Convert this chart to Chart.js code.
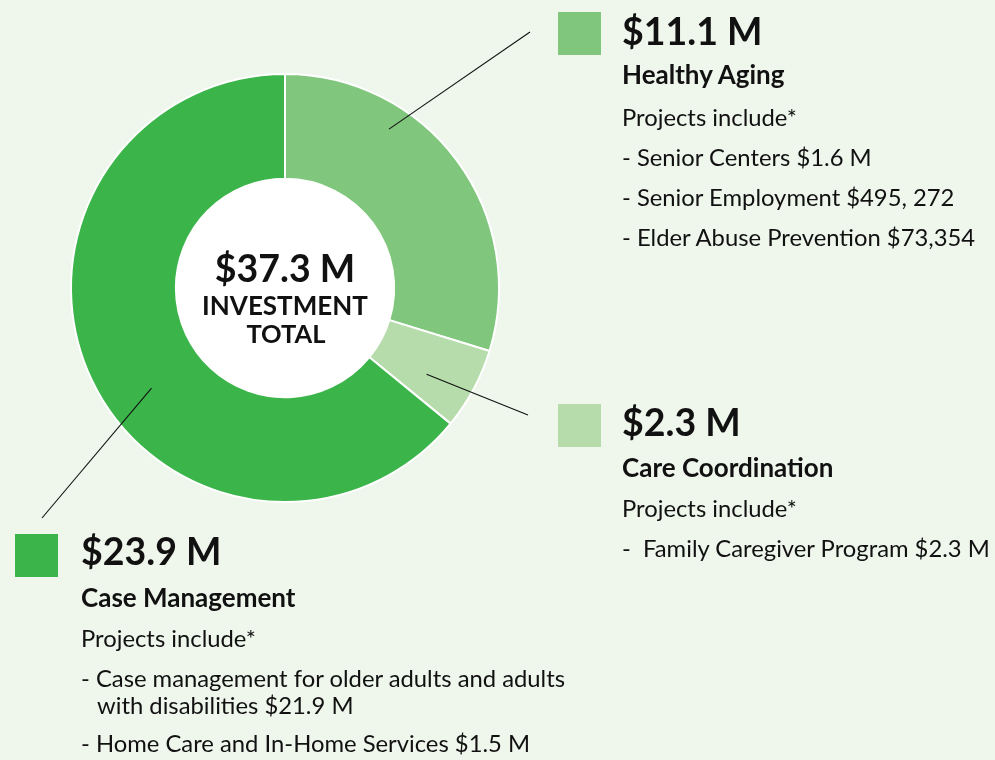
<!DOCTYPE html>
<html>
<head>
<meta charset="utf-8">
<script src="https://cdn.jsdelivr.net/npm/chart.js@4.4.1/dist/chart.umd.min.js"></script>
<style>
  html, body { margin: 0; padding: 0; }
  body { width: 995px; height: 760px; background: #eff6ec; position: relative; overflow: hidden; font-family: Lato, "Noto Sans", sans-serif; color: #111; }
  #wrap { position: absolute; left: 0; top: 0; width: 995px; height: 760px; }
  .t { position: absolute; white-space: pre; line-height: 1; }
  .sq { position: absolute; width: 43px; height: 43px; }
</style>
</head>
<body>
<div id="wrap"><canvas id="chart" width="995" height="760"></canvas></div>
<script>
// data
const categories = ["Healthy Aging", "Care Coordination", "Case Management"];
const amounts = [11.1, 2.3, 23.9]; // $ millions
const amountLabels = ["$11.1 M", "$2.3 M", "$23.9 M"];
const totalLabel = "$37.3 M";
const projectItems = [
  ["- Senior Centers $1.6 M", "- Senior Employment $495, 272", "- Elder Abuse Prevention $73,354"],
  ["-  Family Caregiver Program $2.3 M"],
  ["- Case management for older adults and adults\nwith disabilities $21.9 M", "- Home Care and In-Home Services $1.5 M"]
];

const colors = ["#80c77d", "#b6dcac", "#3bb54a"];

// layout of the text blocks (x, square top, baselines)
const blocks = [
  { x: 622, sqX: 558, sqY: 12, value: 45, name: 84, proj: 127, items: [167, 207, 247] },
  { x: 622, sqX: 558, sqY: 404, value: 436, name: 477, proj: 518, items: [558] },
  { x: 81, sqX: 15, sqY: 534, value: 565, name: 607, proj: 648, items: [688, 753] }
];
// leader lines: where inside the arc they start, and where they end
const leaders = [
  { frac: 0.31, rad: 0.77, end: [530, 32] },
  { frac: 0.64, rad: 0.54, end: [528, 415] },
  { frac: 0.45, rad: 0.55, end: [42, 518] }
];

const ASC = 0.887; // baseline offset for Lato with line-height 1

function addText(str, x, baseline, size, weight, center) {
  const d = document.createElement("div");
  d.className = "t";
  d.textContent = str;
  d.style.fontSize = size + "px";
  d.style.fontWeight = weight;
  d.style.top = (baseline - ASC * size) + "px";
  if (center) {
    d.style.left = (x - 200) + "px";
    d.style.width = "400px";
    d.style.textAlign = "center";
  } else {
    d.style.left = x + "px";
  }
  document.body.appendChild(d);
}

blocks.forEach((b, i) => {
  const sq = document.createElement("div");
  sq.className = "sq";
  sq.style.left = b.sqX + "px";
  sq.style.top = b.sqY + "px";
  sq.style.background = colors[i];
  document.body.appendChild(sq);
  addText(amountLabels[i], b.x, b.value, 37.5, 700);
  addText(categories[i], b.x, b.name, 26, 700);
  addText("Projects include*", b.x, b.proj, 23.8, 400);
  projectItems[i].forEach((it, j) => {
    const parts = it.split("\n");
    addText(parts[0], b.x, b.items[j], 23.8, 400);
    if (parts[1]) addText(parts[1], b.x + 16, b.items[j] + 27, 23.8, 400);
  });
});

addText(totalLabel, 285, 282, 37.5, 700, true);
addText("INVESTMENT", 285, 315, 26, 700, true);
addText("TOTAL", 286, 344, 25.5, 700, true);

const holeAndLeaders = {
  id: "holeAndLeaders",
  beforeDatasetsDraw(chart) {
    const arc = chart.getDatasetMeta(0).data[0];
    const c = chart.ctx;
    c.save();
    c.fillStyle = "#ffffff";
    c.beginPath();
    c.arc(arc.x, arc.y, arc.innerRadius, 0, Math.PI * 2);
    c.fill();
    c.restore();
  },
  afterDatasetsDraw(chart) {
    const c = chart.ctx;
    c.save();
    c.strokeStyle = "#111";
    c.lineWidth = 1.1;
    chart.getDatasetMeta(0).data.forEach((a, i) => {
      const L = leaders[i];
      const ang = a.startAngle + (a.endAngle - a.startAngle) * L.frac;
      const r = a.innerRadius + (a.outerRadius - a.innerRadius) * L.rad;
      c.beginPath();
      c.moveTo(a.x + Math.cos(ang) * r, a.y + Math.sin(ang) * r);
      c.lineTo(L.end[0], L.end[1]);
      c.stroke();
    });
    c.restore();
  }
};

new Chart(document.getElementById("chart"), {
  type: "doughnut",
  data: {
    labels: categories,
    datasets: [{
      data: amounts,
      backgroundColor: colors,
      borderColor: "#ffffff",
      borderWidth: 2
    }]
  },
  options: {
    responsive: false,
    animation: false,
    cutout: "51%",
    layout: { padding: { left: 70, top: 73, right: 495, bottom: 257 } },
    plugins: { legend: { display: false }, tooltip: { enabled: false } }
  },
  plugins: [holeAndLeaders]
});
</script>
</body>
</html>
